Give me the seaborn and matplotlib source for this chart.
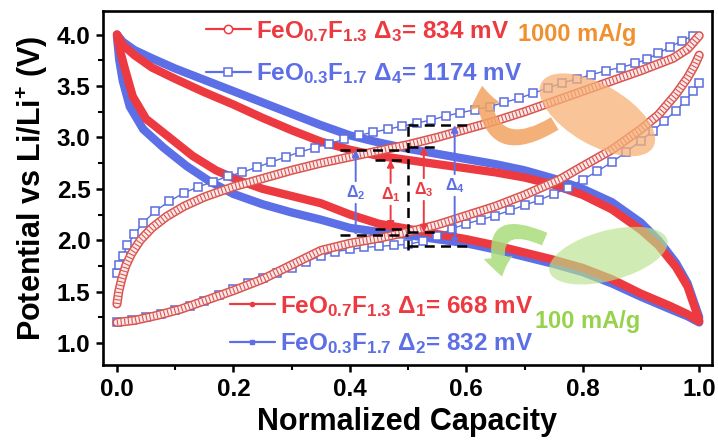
import numpy as np
import pandas as pd
import matplotlib
matplotlib.use("Agg")
import matplotlib.pyplot as plt
import seaborn as sns
from matplotlib.lines import Line2D
from matplotlib.patches import Ellipse, FancyArrowPatch
from matplotlib.ticker import MultipleLocator
from matplotlib import transforms

# ---------------------------------------------------------------- data
# 100 mA/g (thick lines): charge branch (upper) and discharge branch (lower)
red_up_x = [0.000, 0.010, 0.030, 0.060, 0.100, 0.150, 0.200, 0.250, 0.300, 0.350, 0.400, 0.450, 0.500,
            0.550, 0.600, 0.650, 0.700, 0.750, 0.800, 0.850, 0.900, 0.930, 0.960, 0.980, 1.000]
red_up_v = [4.00, 3.90, 3.80, 3.68, 3.57, 3.44, 3.32, 3.19, 3.07, 2.96, 2.88, 2.82, 2.78,
            2.74, 2.70, 2.66, 2.61, 2.54, 2.44, 2.30, 2.10, 1.95, 1.74, 1.55, 1.22]
red_dn_x = [0.000, 0.005, 0.014, 0.027, 0.050, 0.090, 0.130, 0.170, 0.210, 0.250, 0.300, 0.350, 0.400,
            0.450, 0.500, 0.550, 0.600, 0.650, 0.700, 0.750, 0.800, 0.850, 0.900, 0.950, 0.980, 1.000]
red_dn_v = [4.00, 3.85, 3.66, 3.40, 3.18, 3.00, 2.82, 2.68, 2.58, 2.50, 2.43, 2.36, 2.25,
            2.16, 2.11, 2.06, 2.01, 1.95, 1.88, 1.81, 1.73, 1.62, 1.48, 1.36, 1.28, 1.21]
blue_up_x = [0.000, 0.010, 0.030, 0.060, 0.100, 0.150, 0.200, 0.250, 0.300, 0.350, 0.400, 0.450, 0.500,
             0.550, 0.600, 0.650, 0.700, 0.750, 0.800, 0.850, 0.900, 0.930, 0.960, 0.980, 1.000]
blue_up_v = [4.00, 3.93, 3.85, 3.77, 3.67, 3.56, 3.45, 3.34, 3.23, 3.12, 3.02, 2.95, 2.89,
             2.84, 2.79, 2.74, 2.68, 2.60, 2.50, 2.37, 2.17, 2.00, 1.78, 1.58, 1.25]
blue_dn_x = [0.000, 0.004, 0.010, 0.022, 0.045, 0.080, 0.120, 0.160, 0.200, 0.250, 0.300, 0.350, 0.400,
             0.450, 0.500, 0.550, 0.600, 0.650, 0.700, 0.750, 0.800, 0.850, 0.900, 0.950, 0.980, 1.000]
blue_dn_v = [3.98, 3.75, 3.55, 3.30, 3.08, 2.90, 2.72, 2.57, 2.45, 2.35, 2.27, 2.20, 2.12,
             2.08, 2.05, 2.01, 1.97, 1.91, 1.84, 1.77, 1.69, 1.58, 1.45, 1.33, 1.26, 1.20]

# 1000 mA/g (open markers)
circ_up_x = [0.000, 0.003, 0.008, 0.015, 0.025, 0.040, 0.060, 0.085, 0.115, 0.150, 0.200, 0.250, 0.300,
             0.350, 0.400, 0.450, 0.500, 0.550, 0.600, 0.650, 0.700, 0.760, 0.800, 0.850, 0.900,
             0.955, 0.980, 1.000]
circ_up_v = [1.38, 1.50, 1.62, 1.75, 1.87, 2.00, 2.12, 2.23, 2.33, 2.42, 2.52, 2.60, 2.68,
             2.75, 2.81, 2.87, 2.93, 3.00, 3.08, 3.16, 3.25, 3.37, 3.45, 3.55, 3.65,
             3.77, 3.86, 3.99]
circ_dn_x = [0.000, 0.030, 0.070, 0.110, 0.150, 0.200, 0.250, 0.300, 0.350, 0.400, 0.450, 0.500, 0.550,
             0.600, 0.650, 0.700, 0.760, 0.800, 0.850, 0.900, 0.930, 0.960, 0.980, 0.992, 1.000]
circ_dn_v = [1.20, 1.22, 1.27, 1.33, 1.41, 1.51, 1.62, 1.76, 1.90, 1.97, 2.02, 2.08, 2.15,
             2.24, 2.33, 2.44, 2.59, 2.72, 2.88, 3.08, 3.22, 3.42, 3.58, 3.70, 3.80]
sq_up_x = [0.000, 0.004, 0.010, 0.018, 0.030, 0.045, 0.065, 0.090, 0.115, 0.140, 0.165, 0.190, 0.215,
           0.240, 0.265, 0.290, 0.315, 0.340, 0.365, 0.390, 0.415, 0.440, 0.465, 0.490, 0.515,
           0.540, 0.565, 0.590, 0.615, 0.640, 0.665, 0.690, 0.715, 0.740, 0.765, 0.790, 0.815,
           0.840, 0.865, 0.890, 0.910, 0.930, 0.950, 0.970, 0.990]
sq_up_v = [1.68, 1.76, 1.85, 1.95, 2.06, 2.17, 2.28, 2.38, 2.46, 2.52, 2.57, 2.62, 2.66,
           2.71, 2.76, 2.81, 2.86, 2.90, 2.94, 2.98, 3.02, 3.05, 3.08, 3.11, 3.14,
           3.17, 3.21, 3.24, 3.27, 3.30, 3.34, 3.38, 3.43, 3.48, 3.53, 3.57, 3.61,
           3.65, 3.68, 3.72, 3.76, 3.82, 3.88, 3.94, 3.99]
sq_dn_x = [0.000, 0.025, 0.050, 0.075, 0.100, 0.125, 0.150, 0.175, 0.200, 0.225, 0.250, 0.275, 0.300,
           0.325, 0.350, 0.375, 0.400, 0.425, 0.450, 0.475, 0.500, 0.525, 0.550, 0.575, 0.600,
           0.625, 0.650, 0.675, 0.700, 0.725, 0.750, 0.775, 0.800, 0.825, 0.850, 0.875, 0.900,
           0.920, 0.940, 0.960, 0.975, 0.990, 1.000]
sq_dn_v = [1.20, 1.22, 1.25, 1.28, 1.32, 1.36, 1.41, 1.47, 1.53, 1.58, 1.63, 1.68, 1.73,
           1.79, 1.85, 1.89, 1.91, 1.93, 1.94, 1.95, 1.96, 1.99, 2.04, 2.11, 2.16,
           2.20, 2.24, 2.29, 2.34, 2.39, 2.45, 2.51, 2.59, 2.67, 2.76, 2.86, 2.97,
           3.06, 3.16, 3.26, 3.35, 3.45, 3.53]

# polarization gaps at half capacity (V)
delta_names = ["1", "2", "3", "4"]
delta_mv = [668, 832, 834, 1174]
delta_top = [2.78, 2.88, 2.91, 3.12]
delta_x = [0.47, 0.41, 0.527, 0.58]

x_ticks = [0.0, 0.2, 0.4, 0.6, 0.8, 1.0]
y_ticks = [1.0, 1.5, 2.0, 2.5, 3.0, 3.5, 4.0]

# ---------------------------------------------------------------- style
RED = "#ec3a40"
BLUE = "#5c6fe6"
CRED = "#d9534f"
SQB = "#5a6ede"
ORANGE = "#f0902e"
GREEN = "#96d24c"

sns.set_style("ticks")
plt.rcParams["font.family"] = ["Liberation Sans", "DejaVu Sans"]
plt.rcParams["font.weight"] = "bold"
plt.rcParams["axes.labelweight"] = "bold"
plt.rcParams["text.color"] = "black"
plt.rcParams["axes.labelcolor"] = "black"
plt.rcParams["xtick.color"] = "black"
plt.rcParams["ytick.color"] = "black"
plt.rcParams["axes.edgecolor"] = "black"
plt.rcParams["mathtext.fontset"] = "custom"
plt.rcParams["mathtext.rm"] = "Liberation Sans"
plt.rcParams["mathtext.it"] = "Liberation Sans"
plt.rcParams["mathtext.bf"] = "Liberation Sans:bold"

frames = []
for name, xs, vs in [("red_up", red_up_x, red_up_v), ("red_dn", red_dn_x, red_dn_v),
                     ("blue_up", blue_up_x, blue_up_v), ("blue_dn", blue_dn_x, blue_dn_v),
                     ("circ_up", circ_up_x, circ_up_v), ("circ_dn", circ_dn_x, circ_dn_v),
                     ("sq_up", sq_up_x, sq_up_v), ("sq_dn", sq_dn_x, sq_dn_v)]:
    frames.append(pd.DataFrame({"cap": xs, "volt": vs, "curve": name}))
df = pd.concat(frames, ignore_index=True)


def branch(name):
    return df[df["curve"] == name]


fig = plt.figure(figsize=(7.18, 4.46), dpi=100)
ax = fig.add_axes([103 / 718, 81 / 446, 609 / 718, 354 / 446])

# thick 100 mA/g curves
for name in ["blue_up", "blue_dn"]:
    sns.lineplot(data=branch(name), x="cap", y="volt", sort=False, estimator=None,
                 color=BLUE, lw=6.0, legend=False, ax=ax, zorder=2,
                 solid_capstyle="round")
for name in ["red_up", "red_dn"]:
    sns.lineplot(data=branch(name), x="cap", y="volt", sort=False, estimator=None,
                 color=RED, lw=6.0, legend=False, ax=ax, zorder=3,
                 solid_capstyle="round")

# open squares, 1000 mA/g
for name in ["sq_up", "sq_dn"]:
    sns.lineplot(data=branch(name), x="cap", y="volt", sort=False, estimator=None,
                 color=SQB, lw=1.0, marker="s", markersize=6.0,
                 markerfacecolor="white", markeredgecolor=SQB, markeredgewidth=1.1,
                 legend=False, ax=ax, zorder=4)

# densely packed open circles, 1000 mA/g: ring band
for name in ["circ_up", "circ_dn"]:
    sns.lineplot(data=branch(name), x="cap", y="volt", sort=False, estimator=None,
                 color=CRED, lw=6.6, legend=False, ax=ax, zorder=5)
    sns.lineplot(data=branch(name), x="cap", y="volt", sort=False, estimator=None,
                 color="#fbeaea", lw=4.4, legend=False, ax=ax, zorder=5)
    sns.lineplot(data=branch(name), x="cap", y="volt", sort=False, estimator=None,
                 color=CRED, lw=4.4, legend=False, ax=ax, zorder=5)
    ax.lines[-1].set_dashes([0.18, 0.42])

ax.set_xlim(-0.024, 1.022)
ax.set_ylim(0.786, 4.23)

# dashed guides and polarization arrows
delta_col = {"1": RED, "2": BLUE, "3": RED, "4": BLUE}
guide_left = {"1": 0.443, "2": 0.383}
guide_right = {"3": 0.552, "4": 0.612}
for nm, mv, top, xx in zip(delta_names, delta_mv, delta_top, delta_x):
    bot = top - mv / 1000.0
    c = delta_col[nm]
    if nm in guide_left:
        x0, x1 = guide_left[nm], 0.5
    else:
        x0, x1 = 0.5, guide_right[nm]
    for lev in (top, bot):
        ax.plot([x0, x1], [lev, lev], color="black", lw=1.8, ls=(0, (4, 2.5)), zorder=6)
    mid = 0.5 * (top + bot)
    for end, start in ((top, mid + 0.11), (bot, mid - 0.11)):
        ax.annotate("", xy=(xx, end), xytext=(xx, start),
                    arrowprops=dict(arrowstyle="-|>", color=c, lw=1.4, mutation_scale=10,
                                    shrinkA=0, shrinkB=0), zorder=7)
    ax.text(xx, mid, r"$\Delta_{%s}$" % nm, color=c, fontsize=11.5, ha="center", va="center",
            zorder=7)
ax.plot([0.5, 0.5], [1.90, 3.17], color="black", lw=1.8, ls=(0, (4, 2.5)), zorder=6)

# rate highlights
orange_fill = "#f6b176"
green_fill = "#b8e38c"
e1 = Ellipse((0, 0), 1.29, 0.60, angle=-30,
             transform=fig.dpi_scale_trans + transforms.ScaledTranslation(0.825, 3.22, ax.transData),
             facecolor=orange_fill, edgecolor="none", alpha=0.75, zorder=8)
e2 = Ellipse((0, 0), 1.22, 0.50, angle=15,
             transform=fig.dpi_scale_trans + transforms.ScaledTranslation(0.844, 1.85, ax.transData),
             facecolor=green_fill, edgecolor="none", alpha=0.65, zorder=8)
ax.add_patch(e1)
ax.add_patch(e2)
a1 = FancyArrowPatch((0.756, 3.15), (0.627, 3.53), connectionstyle="arc3,rad=-0.85",
                     arrowstyle="simple,head_length=1.0,head_width=1.5,tail_width=0.7",
                     mutation_scale=15, color="#f2a462", alpha=0.85, lw=0, zorder=8)
a2 = FancyArrowPatch((0.739, 2.00), (0.663, 1.62), connectionstyle="arc3,rad=1.1",
                     arrowstyle="simple,head_length=1.0,head_width=1.5,tail_width=0.7",
                     mutation_scale=14, color="#a9dc7a", alpha=0.85, lw=0, zorder=8)
ax.add_patch(a1)
ax.add_patch(a2)
ax.text(0.79, 4.0, "1000 mA/g", color=ORANGE, fontsize=17, fontweight="bold",
        ha="center", va="center", zorder=9)
ax.text(0.808, 1.21, "100 mA/g", color=GREEN, fontsize=17, fontweight="bold",
        ha="center", va="center", zorder=9)

# legends
lab_top = [r"FeO$_{\mathbf{0.7}}$F$_{\mathbf{1.3}}$ $\Delta_{3}$= 834 mV",
           r"FeO$_{\mathbf{0.3}}$F$_{\mathbf{1.7}}$ $\Delta_{4}$= 1174 mV"]
lab_bot = [r"FeO$_{\mathbf{0.7}}$F$_{\mathbf{1.3}}$ $\Delta_{1}$= 668 mV",
           r"FeO$_{\mathbf{0.3}}$F$_{\mathbf{1.7}}$ $\Delta_{2}$= 832 mV"]
h_top = [Line2D([], [], color=RED, lw=1.6, marker="o", ms=6, mfc="white", mec=RED, mew=1.1),
         Line2D([], [], color=BLUE, lw=1.6, marker="s", ms=6, mfc="white", mec=BLUE, mew=1.1)]
h_bot = [Line2D([], [], color=RED, lw=1.6, marker="o", ms=3, mfc=RED, mec=RED),
         Line2D([], [], color=BLUE, lw=1.6, marker="s", ms=3, mfc=BLUE, mec=BLUE)]
common = dict(loc="upper left", bbox_transform=fig.transFigure, frameon=False,
              prop=dict(size=17.5, weight="bold"), handlelength=1.85, handletextpad=0.2,
              borderpad=0, borderaxespad=0)
leg1 = ax.legend(h_top, lab_top, bbox_to_anchor=(206 / 718, 1 - 19 / 446),
                 labelcolor=[RED, BLUE], labelspacing=0.72, **common)
leg1.set_zorder(10)
ax.add_artist(leg1)
leg2 = ax.legend(h_bot, lab_bot, bbox_to_anchor=(230 / 718, 1 - 294 / 446),
                 labelcolor=[RED, BLUE], labelspacing=0.5, **common)
leg2.set_zorder(10)

# axes
ax.set_xticks(x_ticks)
ax.set_yticks(y_ticks)
ax.set_xticklabels([f"{t:.1f}" for t in x_ticks])
ax.set_yticklabels([f"{t:.1f}" for t in y_ticks])
ax.xaxis.set_minor_locator(MultipleLocator(0.1))
ax.yaxis.set_minor_locator(MultipleLocator(0.25))
ax.tick_params(which="major", direction="out", length=5, width=1.8, labelsize=17.5, pad=4,
               top=False, right=False)
ax.tick_params(which="minor", direction="out", length=3.5, width=1.5, top=False, right=False)
for lab in ax.get_xticklabels() + ax.get_yticklabels():
    lab.set_fontweight("bold")
for sp in ax.spines.values():
    sp.set_linewidth(1.9)
    sp.set_visible(True)
ax.set_xlabel("Normalized Capacity", fontsize=22, fontweight="bold", labelpad=5)
ax.set_ylabel(r"Potential vs Li/Li$^{\mathbf{+}}$ (V)", fontsize=22, fontweight="bold", labelpad=5)

fig.savefig("out.png", dpi=100)
